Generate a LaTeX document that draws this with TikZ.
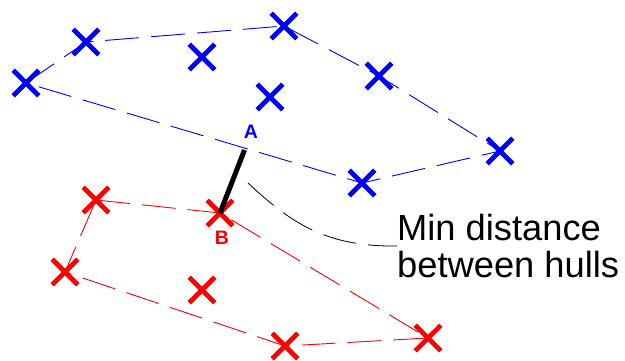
\documentclass[tikz,border=0pt]{standalone}
\usepackage{fontspec}
\setmainfont{Liberation Sans}
\usetikzlibrary{shapes.misc}
\definecolor{hblue}{RGB}{0,0,255}
\definecolor{hred}{RGB}{255,0,0}
\begin{document}
\begin{tikzpicture}[x=1pt,y=-1pt,
  mk/.style={cross out,draw,line width=4.6pt,minimum size=21pt,inner sep=0pt},
  bm/.style={mk,draw=hblue},
  rm/.style={mk,draw=hred},
  hull/.style={line width=0.9pt,dash pattern=on 34pt off 12pt},
  lbl/.style={font=\fontsize{19.5}{21}\selectfont\bfseries,inner sep=0pt}]
\useasboundingbox (0,0) rectangle (625,361);
% blue points
\node[bm] (b1) at (26,83) {};
\node[bm] (b2) at (86,42) {};
\node[bm] (b3) at (202,57) {};
\node[bm] (b4) at (284,26) {};
\node[bm] (b5) at (379,76) {};
\node[bm] (b6) at (270,97) {};
\node[bm] (b7) at (500,151) {};
\node[bm] (b8) at (362,183) {};
% red points
\node[rm] (r1) at (96,200) {};
\node[rm] (r2) at (220,213) {};
\node[rm] (r3) at (65,272) {};
\node[rm] (r4) at (202,290) {};
\node[rm] (r5) at (285,346) {};
\node[rm] (r6) at (428,338) {};
% hulls
\draw[hull,hblue] (b1.center) -- (b2.center) -- (b4.center) -- (b5.center) -- (b7.center) -- (b8.center) -- (b1.center);
\draw[hull,hred] (r1.center) -- (r2.center) -- (r6.center) -- (r5.center) -- (r3.center) -- (r1.center);
% min distance
\coordinate (pa) at (244.5,150);
\coordinate (pb) at (220,213);
\draw[line width=5pt] (pa) -- (pb);
\node[lbl,text=hblue] (la) at (251,132) {A};
\node[lbl,text=hred] (lb) at (222,238) {B};
% annotation
\node[font=\fontsize{36.3}{37}\selectfont,align=left,anchor=west,inner sep=0pt] (txt) at (397,246) {Min distance\\between hulls};
\coordinate (c0) at (248,183);
\draw[line width=0.8pt,dash pattern=on 34pt off 12pt] (c0) .. controls (290,222) and (325,247) .. (txt.west);
\end{tikzpicture}
\end{document}
